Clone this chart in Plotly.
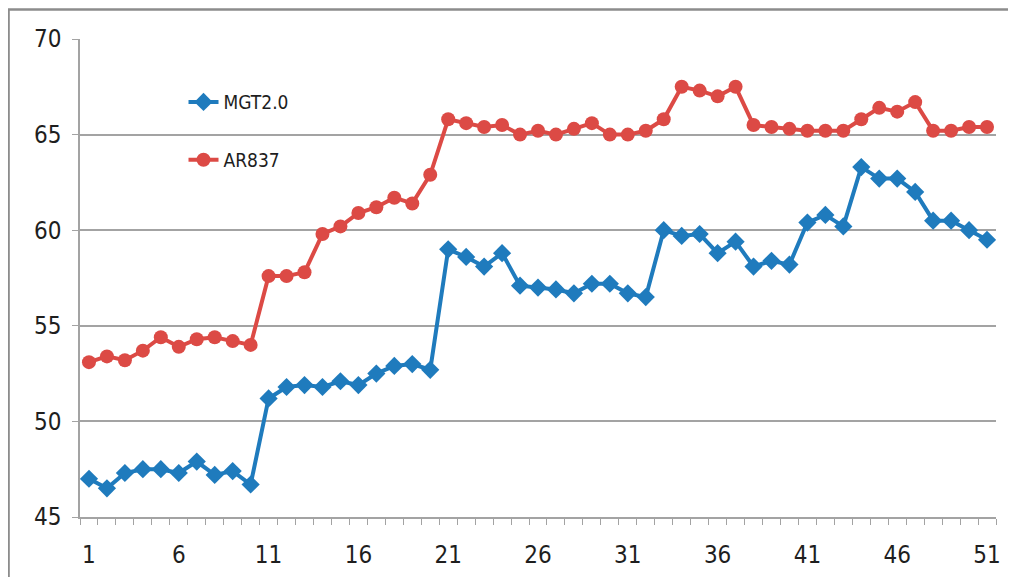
import plotly.graph_objects as go

x_idx = list(range(1, 52))
mgt = [47.0, 46.5, 47.3, 47.5, 47.5, 47.3, 47.9, 47.2, 47.4, 46.7,
       51.2, 51.8, 51.9, 51.8, 52.1, 51.9, 52.5, 52.9, 53.0, 52.7,
       59.0, 58.6, 58.1, 58.8, 57.1, 57.0, 56.9, 56.7, 57.2, 57.2,
       56.7, 56.5, 60.0, 59.7, 59.8, 58.8, 59.4, 58.1, 58.4, 58.2,
       60.4, 60.8, 60.2, 63.3, 62.7, 62.7, 62.0, 60.5, 60.5, 60.0, 59.5]
ar = [53.1, 53.4, 53.2, 53.7, 54.4, 53.9, 54.3, 54.4, 54.2, 54.0,
      57.6, 57.6, 57.8, 59.8, 60.2, 60.9, 61.2, 61.7, 61.4, 62.9,
      65.8, 65.6, 65.4, 65.5, 65.0, 65.2, 65.0, 65.3, 65.6, 65.0,
      65.0, 65.2, 65.8, 67.5, 67.3, 67.0, 67.5, 65.5, 65.4, 65.3,
      65.2, 65.2, 65.2, 65.8, 66.4, 66.2, 66.7, 65.2, 65.2, 65.4, 65.4]
x_ticks = list(range(1, 52, 5))
y_ticks = [45, 50, 55, 60, 65, 70]

FONT = "DejaVu Sans Condensed, Liberation Sans Narrow, Liberation Sans, sans-serif"
BLUE = "#1f7bbd"
RED = "#dc4a45"
GRID = "#a3a3a3"

fig = go.Figure()
fig.add_trace(go.Scatter(
    x=x_idx, y=mgt, name="MGT2.0", mode="lines+markers",
    line=dict(color=BLUE, width=4),
    marker=dict(symbol="diamond", size=14, color=BLUE),
    legend="legend"))
fig.add_trace(go.Scatter(
    x=x_idx, y=ar, name="AR837", mode="lines+markers",
    line=dict(color=RED, width=4),
    marker=dict(symbol="circle", size=14, color=RED),
    legend="legend2"))

fig.update_layout(
    width=1016, height=577,
    margin=dict(l=72, r=28, t=31, b=68),
    paper_bgcolor="white", plot_bgcolor="white",
    font=dict(family=FONT, size=24, color="#1e1e1e"),
    showlegend=True,
    legend=dict(x=0.113, y=0.868, xanchor="left", yanchor="middle",
                bgcolor="rgba(0,0,0,0)", font=dict(size=19)),
    legend2=dict(x=0.113, y=0.747, xanchor="left", yanchor="middle",
                 bgcolor="rgba(0,0,0,0)", font=dict(size=19)),
    xaxis=dict(
        range=[0.5, 51.5], tickmode="array", tickvals=x_ticks,
        ticktext=[str(v) for v in x_ticks],
        showgrid=False, zeroline=False,
        showline=True, linecolor=GRID, linewidth=1.5,
        ticks="", ticklabelstandoff=15,
        minor=dict(tick0=0.5, dtick=1, ticks="outside", ticklen=6,
                   tickcolor=GRID, tickwidth=1, showgrid=False),
    ),
    yaxis=dict(
        range=[45, 70], tickmode="array", tickvals=y_ticks,
        showgrid=True, gridcolor=GRID, gridwidth=1.5, zeroline=False,
        showline=True, linecolor=GRID, linewidth=1.5,
        ticks="outside", ticklen=6, tickcolor=GRID,
        ticklabelstandoff=6,
    ),
    shapes=[dict(type="rect", xref="paper", yref="paper",
                 x0=-0.078, y0=-0.3, x1=1.2, y1=1.0617,
                 line=dict(color="#8c8c8c", width=2.5),
                 fillcolor="rgba(0,0,0,0)", layer="below")],
)

fig.write_html("out.html")
